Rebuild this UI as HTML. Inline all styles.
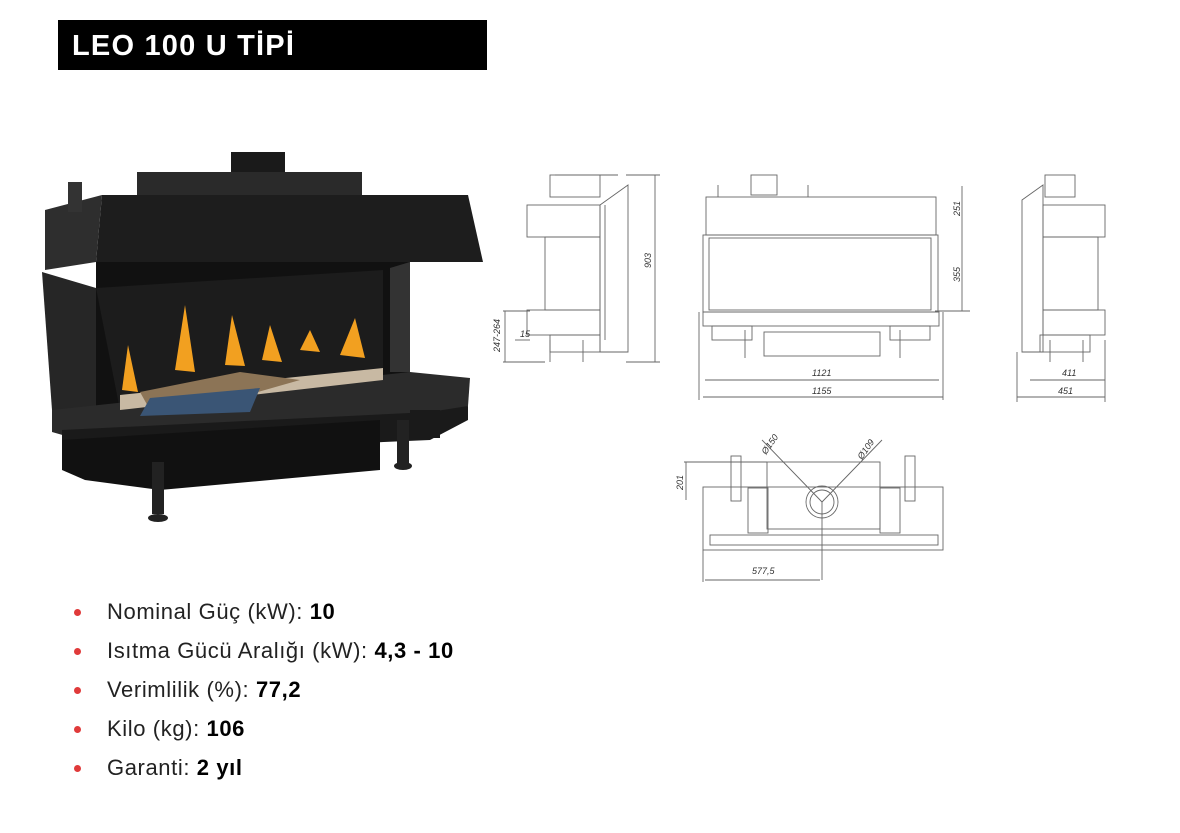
<!DOCTYPE html>
<html><head><meta charset="utf-8"><style>
body{margin:0;width:1180px;height:833px;background:#fff;position:relative;overflow:hidden;font-family:"Liberation Sans",sans-serif}
.title{position:absolute;left:58px;top:20px;width:429px;height:50px;background:#000;color:#fff;font-weight:bold;font-size:29px;line-height:52px;box-sizing:border-box;padding-left:14px;letter-spacing:1.2px}
ul{position:absolute;left:72px;top:596px;margin:0;padding:0;list-style:none}
li{font-size:22px;height:39px;line-height:32px;color:#222;position:relative;padding-left:35px;letter-spacing:0.6px}
li:before{content:"";position:absolute;left:2px;top:13px;width:7px;height:7px;border-radius:50%;background:#e03a3a}
b{color:#000}
svg{position:absolute;left:0;top:0}
</style></head><body>
<div class="title">LEO 100 U TİPİ</div>
<svg width="1180" height="833">
<g>
<rect x="231" y="152" width="54" height="22" fill="#1a1a1a"/>
<polygon points="137,172 362,172 362,195 137,195" fill="#2a2a2a"/>
<polygon points="102,195 468,195 483,262 96,262" fill="#1d1d1d"/>
<polygon points="45,210 102,195 96,262 45,270" fill="#2e2e2e"/>
<rect x="68" y="182" width="14" height="30" fill="#333"/>
<polygon points="42,272 96,288 96,416 52,410" fill="#262626"/>
<polygon points="96,262 410,262 410,395 96,416" fill="#111"/>
<polygon points="96,288 383,270 383,380 120,410" fill="#1c1c1c"/>
<polygon points="390,268 410,262 410,372 390,372" fill="#333"/>
<polygon points="52,410 410,372 470,378 468,406 430,420 80,440 52,432" fill="#2b2b2b"/>
<polygon points="120,395 383,368 383,380 120,410" fill="#c8b9a3"/>
<polygon points="140,392 240,372 300,380 230,400 150,410" fill="#8c7456"/>
<polygon points="150,398 260,388 250,412 140,416" fill="#3a5575"/>
<g fill="#f2a020">
<polygon points="122,390 128,345 138,392"/>
<polygon points="175,370 185,305 195,372"/>
<polygon points="225,365 232,315 245,366"/>
<polygon points="262,360 270,325 282,362"/>
<polygon points="340,355 355,318 365,358"/>
<polygon points="300,350 310,330 320,352"/>
</g>
<polygon points="62,430 430,412 468,406 468,420 430,440 62,456" fill="#1a1a1a"/>
<polygon points="62,440 380,420 380,470 160,490 85,480 62,470" fill="#111"/>
<rect x="152" y="462" width="12" height="52" fill="#222"/>
<ellipse cx="158" cy="518" rx="10" ry="4" fill="#222"/>
<rect x="397" y="420" width="12" height="44" fill="#222"/>
<ellipse cx="403" cy="466" rx="9" ry="4" fill="#222"/>
<rect x="410" y="410" width="30" height="28" fill="#1a1a1a"/>
</g>
<g fill="none" stroke="#666" stroke-width="0.9">
<rect x="527" y="205" width="73" height="32"/>
<rect x="545" y="237" width="55" height="73"/>
<rect x="527" y="310" width="73" height="25"/>
<polygon points="600,205 628,185 628,352 600,352"/>
<line x1="605" y1="205" x2="605" y2="340"/>
<rect x="550" y="335" width="50" height="17"/>
<rect x="550" y="175" width="50" height="22"/>
<line x1="555" y1="175" x2="618" y2="175"/>
<line x1="550" y1="340" x2="550" y2="362"/><line x1="583" y1="340" x2="583" y2="362"/>
<line x1="626" y1="175" x2="660" y2="175"/><line x1="626" y1="362" x2="660" y2="362"/>
<line x1="655" y1="175" x2="655" y2="362"/>
<line x1="503" y1="311" x2="530" y2="311"/><line x1="503" y1="362" x2="545" y2="362"/>
<line x1="505" y1="311" x2="505" y2="362"/>
<line x1="515" y1="340" x2="530" y2="340"/>
<rect x="751" y="175" width="26" height="20"/>
<line x1="718" y1="185" x2="718" y2="197"/><line x1="808" y1="185" x2="808" y2="197"/>
<rect x="706" y="197" width="230" height="38"/>
<rect x="703" y="235" width="235" height="77"/>
<rect x="709" y="238" width="222" height="72"/>
<rect x="703" y="312" width="236" height="14"/>
<rect x="712" y="326" width="40" height="14"/><rect x="890" y="326" width="40" height="14"/>
<rect x="764" y="332" width="116" height="24"/>
<line x1="699" y1="312" x2="699" y2="400"/><line x1="943" y1="312" x2="943" y2="400"/>
<line x1="705" y1="380" x2="939" y2="380"/><line x1="703" y1="397" x2="943" y2="397"/>
<line x1="962" y1="186" x2="962" y2="311"/><line x1="935" y1="311" x2="970" y2="311"/>
<line x1="745" y1="330" x2="745" y2="358"/><line x1="900" y1="330" x2="900" y2="358"/>
<polygon points="1043,185 1022,200 1022,352 1043,352"/>
<rect x="1043" y="205" width="62" height="32"/>
<rect x="1043" y="237" width="55" height="73"/>
<rect x="1043" y="310" width="62" height="25"/>
<rect x="1045" y="175" width="30" height="22"/>
<rect x="1040" y="335" width="50" height="17"/>
<line x1="1050" y1="340" x2="1050" y2="362"/><line x1="1083" y1="340" x2="1083" y2="362"/>
<line x1="1017" y1="352" x2="1017" y2="402"/><line x1="1105" y1="340" x2="1105" y2="402"/>
<line x1="1030" y1="380" x2="1105" y2="380"/><line x1="1017" y1="397" x2="1105" y2="397"/>
<rect x="767" y="462" width="113" height="67"/>
<rect x="703" y="487" width="240" height="63"/>
<rect x="710" y="535" width="228" height="10"/>
<rect x="748" y="488" width="20" height="45"/><rect x="880" y="488" width="20" height="45"/>
<rect x="731" y="456" width="10" height="45"/><rect x="905" y="456" width="10" height="45"/>
<circle cx="822" cy="502" r="16"/><circle cx="822" cy="502" r="12"/>
<line x1="762" y1="440" x2="822" y2="502"/><line x1="882" y1="440" x2="822" y2="502"/>
<line x1="822" y1="502" x2="822" y2="580"/>
<line x1="684" y1="462" x2="767" y2="462"/><line x1="686" y1="462" x2="686" y2="500"/>
<line x1="703" y1="550" x2="703" y2="582"/><line x1="705" y1="580" x2="820" y2="580"/>
</g>
<g font-family="Liberation Sans" font-size="9" fill="#333" font-style="italic">
<text x="812" y="376">1121</text><text x="812" y="394">1155</text>
<text x="1062" y="376">411</text><text x="1058" y="394">451</text>
<text x="520" y="337">15</text>
<text x="752" y="574">577,5</text>
<text transform="translate(651,268) rotate(-90)" x="0" y="0">903</text>
<text transform="translate(960,216) rotate(-90)">251</text>
<text transform="translate(960,282) rotate(-90)">355</text>
<text transform="translate(500,352) rotate(-90)">247-264</text>
<text transform="translate(683,490) rotate(-90)">201</text>
<text transform="translate(766,455) rotate(-55)">Ø150</text>
<text transform="translate(862,460) rotate(-55)">Ø109</text>
</g>
</svg>
<ul>
<li>Nominal Güç (kW): <b>10</b></li>
<li>Isıtma Gücü Aralığı (kW): <b>4,3 - 10</b></li>
<li>Verimlilik (%): <b>77,2</b></li>
<li>Kilo (kg): <b>106</b></li>
<li>Garanti: <b>2 yıl</b></li>
</ul>
</body></html>
